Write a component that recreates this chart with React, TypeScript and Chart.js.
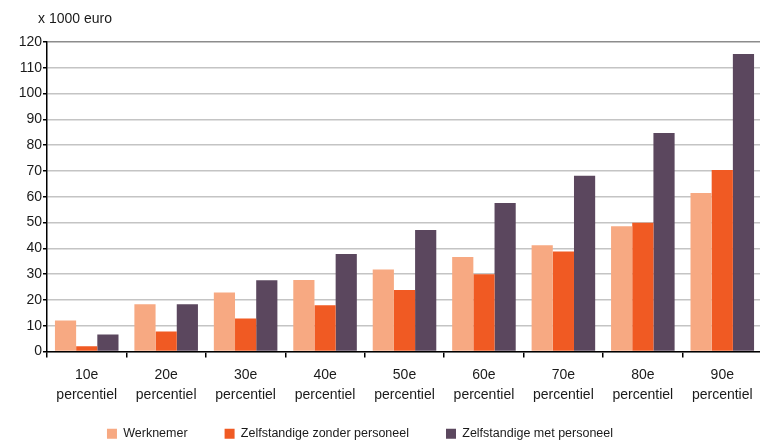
import React, { useEffect, useRef } from "react";
import { Chart, registerables } from "chart.js";

Chart.register(...registerables);

const categories: string[][] = [
  ["10e", "percentiel"],
  ["20e", "percentiel"],
  ["30e", "percentiel"],
  ["40e", "percentiel"],
  ["50e", "percentiel"],
  ["60e", "percentiel"],
  ["70e", "percentiel"],
  ["80e", "percentiel"],
  ["90e", "percentiel"],
];
const werknemer = [12.0, 18.3, 22.9, 27.7, 31.8, 36.6, 41.2, 48.6, 61.5];
const zonderPersoneel = [2.0, 7.8, 12.8, 17.9, 23.8, 30.0, 38.8, 49.9, 70.4];
const metPersoneel = [6.6, 18.3, 27.6, 37.8, 47.1, 57.6, 68.1, 84.7, 115.3];
const seriesNames = ["Werknemer", "Zelfstandige zonder personeel", "Zelfstandige met personeel"];
const unitLabel = "x 1000 euro";
const yMax = 120;
const yStep = 10;

const FONT = "'Liberation Sans', Arial, sans-serif";

export default function App() {
  const ref = useRef<HTMLCanvasElement | null>(null);
  useEffect(() => {
    if (!ref.current) return;
    const unitPlugin = {
      id: "unitLabel",
      afterLayout(chart: any) {
        const lg = chart.legend;
        if (lg) {
          lg.left -= 21;
          lg.right -= 21;
          lg.top -= 17;
          lg.bottom -= 17;
        }
      },
      afterDraw(chart: any) {
        const { ctx, chartArea } = chart;
        ctx.save();
        ctx.font = `14px ${FONT}`;
        ctx.fillStyle = "#1a1a1a";
        ctx.textAlign = "left";
        ctx.textBaseline = "middle";
        ctx.fillText(unitLabel, chartArea.left - 9, chartArea.top - 23);
        ctx.restore();
      },
    };
    const chart = new Chart(ref.current, {
      type: "bar",
      data: {
        labels: categories,
        datasets: [
          { label: seriesNames[0], data: werknemer, backgroundColor: "#F7A982" },
          { label: seriesNames[1], data: zonderPersoneel, backgroundColor: "#F05A23" },
          { label: seriesNames[2], data: metPersoneel, backgroundColor: "#5B475E" },
        ],
      },
      options: {
        animation: false,
        responsive: false,
        maintainAspectRatio: false,
        devicePixelRatio: 1,
        datasets: { bar: { categoryPercentage: 0.8, barPercentage: 1.0 } },
        layout: { padding: { top: 42, left: 0, right: 4, bottom: 0 } },
        plugins: {
          tooltip: { enabled: false },
          legend: {
            position: "bottom",
            labels: {
              boxWidth: 10,
              boxHeight: 10,
              padding: 37,
              color: "#1a1a1a",
              font: { family: FONT, size: 12.5 },
            },
          },
        },
        scales: {
          x: {
            grid: {
              offset: true,
              drawOnChartArea: false,
              drawTicks: true,
              tickLength: 6,
              color: "#000",
              lineWidth: 1.5,
            },
            border: { color: "#000", width: 1.5 },
            ticks: {
              color: "#1a1a1a",
              padding: 8,
              font: { family: FONT, size: 14, lineHeight: 1.43 },
              maxRotation: 0,
              autoSkip: false,
            },
            afterFit(scale: any) {
              scale.height = 56;
            },
          },
          y: {
            min: 0,
            max: yMax,
            grid: {
              color: (c: any) => (c.tick && c.tick.value === yMax ? "#8c8c8c" : "#c4c4c4"),
              lineWidth: 1.5,
              tickLength: 4,
              tickColor: "#000",
            },
            border: { color: "#000", width: 1.5 },
            ticks: {
              stepSize: yStep,
              color: "#1a1a1a",
              padding: 1,
              font: { family: FONT, size: 14 },
            },
            afterFit(scale: any) {
              scale.width = 47;
            },
          },
        },
      },
      plugins: [unitPlugin],
    });
    return () => chart.destroy();
  }, []);
  return (
    <div style={{ position: "fixed", left: 0, top: 0, width: 760, height: 443, overflow: "hidden", background: "#fff" }}>
      <canvas ref={ref} width={766} height={467} style={{ display: "block" }} />
    </div>
  );
}
